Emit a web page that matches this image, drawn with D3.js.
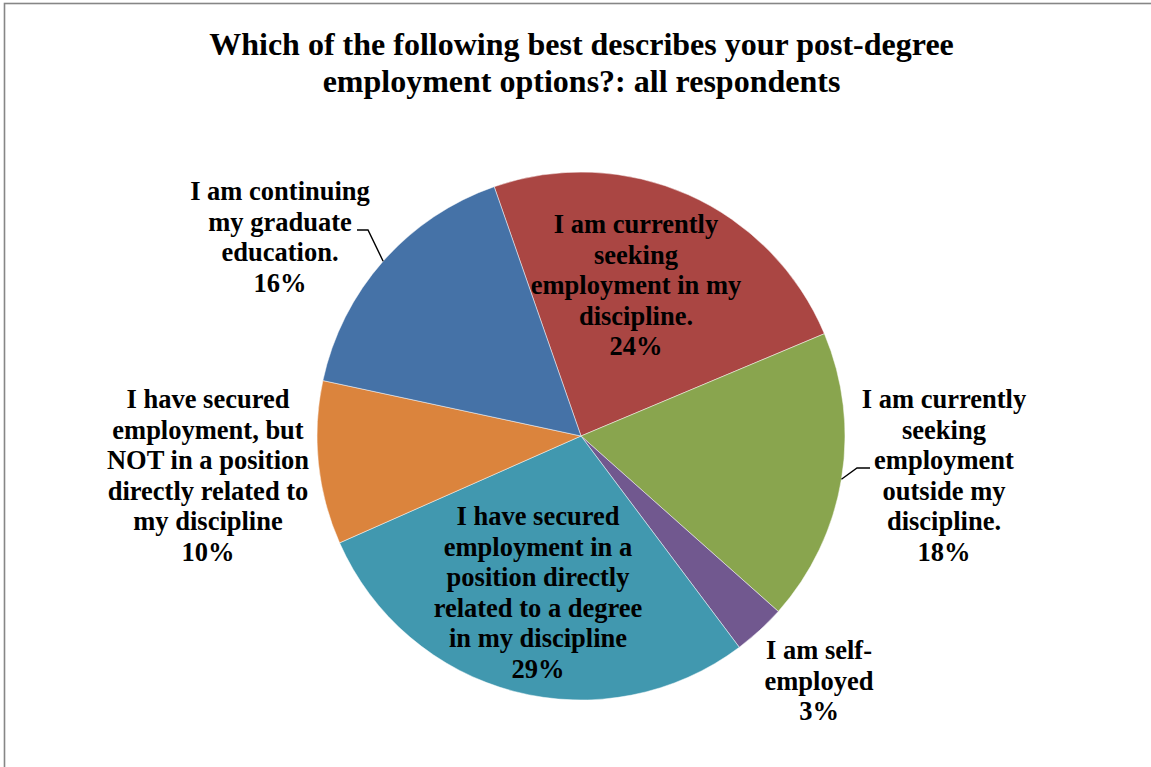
<!DOCTYPE html>
<html>
<head>
<meta charset="utf-8">
<script src="https://cdn.jsdelivr.net/npm/d3@7/dist/d3.min.js"></script>
<style>
  html, body { margin: 0; padding: 0; background: #ffffff; }
  svg { display: block; }
  text { font-family: "Liberation Serif", "Times New Roman", serif; font-weight: bold; fill: #000; }
</style>
</head>
<body>
<svg id="chart" width="1151" height="767"></svg>
<script>
// ---- data ----
const titleLines = ["Which of the following best describes your post-degree", "employment options?: all respondents"];
const categories = [
  "I am currently seeking employment in my discipline.",
  "I am currently seeking employment outside my discipline.",
  "I am self-employed",
  "I have secured employment in a position directly related to a degree in my discipline",
  "I have secured employment, but NOT in a position directly related to my discipline",
  "I am continuing my graduate education."
];
const values = [24.0, 17.9, 3.2, 28.6, 10.0, 16.3];   // percent of respondents
const labelLines = [
  ["I am currently", "seeking", "employment in my", "discipline."],
  ["I am currently", "seeking", "employment", "outside my", "discipline."],
  ["I am self-", "employed"],
  ["I have secured", "employment in a", "position directly", "related to a degree", "in my discipline"],
  ["I have secured", "employment, but", "NOT in a position", "directly related to", "my discipline"],
  ["I am continuing", "my graduate", "education."]
];
const colors = ["#AA4643", "#89A54E", "#71588F", "#4198AF", "#DB843D", "#4572A7"];

// ---- layout ----
const W = 1151, H = 767;
const cx = 581, cy = 436, R = 264;
const startDeg = -19.2;
const fontSize = 26.5, lineH = 30.5;
// label anchor: centre x and first baseline y; leader: elbow point (if any)
const labelLayout = [
  { x: 636, y: 233 },
  { x: 944, y: 408, leader: { ex: 857, ey: 468, hx: 870 } },
  { x: 819, y: 659 },
  { x: 538, y: 525 },
  { x: 208, y: 408 },
  { x: 280, y: 200, leader: { ex: 368, ey: 230, hx: 357 } }
];

const svg = d3.select("#chart");

// border
svg.append("rect")
  .attr("x", 4.5).attr("y", 3.5)
  .attr("width", W + 20).attr("height", H + 20)
  .attr("fill", "#ffffff")
  .attr("stroke", "#868686")
  .attr("stroke-width", 1.6);

// title
svg.append("text")
  .attr("text-anchor", "middle")
  .attr("font-size", 32)
  .selectAll("tspan")
  .data(titleLines)
  .join("tspan")
  .attr("x", 581.5)
  .attr("y", (d, i) => 55 + i * 36.8)
  .text(d => d);

// pie
const pie = d3.pie().sort(null).value(d => d)
  .startAngle(startDeg * Math.PI / 180)
  .endAngle(startDeg * Math.PI / 180 + 2 * Math.PI);
const arcs = pie(values);
const arc = d3.arc().innerRadius(0).outerRadius(R);

const g = svg.append("g").attr("transform", `translate(${cx},${cy})`);
g.selectAll("path.slice")
  .data(arcs)
  .join("path")
  .attr("class", "slice")
  .attr("d", arc)
  .attr("fill", (d, i) => colors[i])
  .attr("stroke", "#ffffff")
  .attr("stroke-opacity", 0.6)
  .attr("stroke-width", 0.8);

// leader lines
arcs.forEach((a, i) => {
  const L = labelLayout[i].leader;
  if (!L) return;
  const mid = (a.startAngle + a.endAngle) / 2;
  const px = cx + R * Math.sin(mid), py = cy - R * Math.cos(mid);
  svg.append("polyline")
    .attr("points", `${px},${py} ${L.ex},${L.ey} ${L.hx},${L.ey}`)
    .attr("fill", "none")
    .attr("stroke", "#000")
    .attr("stroke-width", 1.4);
});

// labels
arcs.forEach((a, i) => {
  const lay = labelLayout[i];
  const lines = labelLines[i].concat([Math.round(values[i]) + "%"]);
  svg.append("text")
    .attr("text-anchor", "middle")
    .attr("font-size", fontSize)
    .selectAll("tspan")
    .data(lines)
    .join("tspan")
    .attr("x", lay.x)
    .attr("y", (d, k) => lay.y + k * lineH)
    .text(d => d);
});
</script>
</body>
</html>
